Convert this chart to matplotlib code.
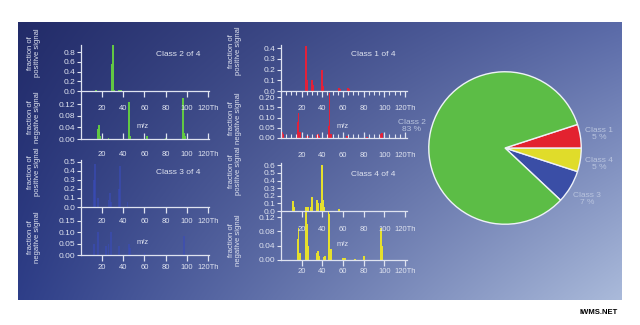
import matplotlib
matplotlib.use("Agg")
import matplotlib.pyplot as plt
import numpy as np

plt.rcParams['font.family'] = ['Liberation Sans', 'DejaVu Sans']

W, H = 640, 325

# ---- data (m/z in Th, fraction of signal) ----
c2_pos_mz = [14, 17, 29, 30, 31, 36, 38, 44, 56]
c2_pos = [0.02, 0.01, 0.55, 0.95, 0.02, 0.02, 0.02, 0.005, 0.005]
c2_neg_mz = [16, 17, 18, 26, 45, 46, 62, 80, 96, 97, 98]
c2_neg = [0.035, 0.048, 0.01, 0.003, 0.127, 0.01, 0.01, 0.005, 0.14, 0.02, 0.01]

c3_pos_mz = [12, 13, 16, 26, 27, 28, 36, 37, 44]
c3_pos = [0.3, 0.48, 0.1, 0.08, 0.15, 0.05, 0.2, 0.45, 0.05]
c3_neg_mz = [12, 16, 24, 26, 28, 36, 45, 46, 60, 97]
c3_neg = [0.05, 0.1, 0.04, 0.05, 0.1, 0.04, 0.05, 0.03, 0.01, 0.085]

c1_pos_mz = [24, 25, 30, 31, 40, 41, 56, 57, 65, 66]
c1_pos = [0.42, 0.1, 0.1, 0.06, 0.2, 0.05, 0.03, 0.02, 0.03, 0.015]
c1_neg_mz = [1, 2, 16, 17, 18, 25, 26, 35, 36, 37, 46, 47, 48, 64, 65, 83, 97, 98]
c1_neg = [0.03, 0.02, 0.08, 0.12, 0.03, 0.01, 0.01, 0.015, 0.02, 0.01,
          0.06, 0.22, 0.02, 0.01, 0.008, 0.005, 0.02, 0.025]

c4_pos_mz = [12, 13, 24, 25, 26, 29, 30, 35, 36, 39, 40, 41, 42, 56]
c4_pos = [0.13, 0.05, 0.05, 0.04, 0.05, 0.05, 0.18, 0.14, 0.1, 0.1, 0.6, 0.15, 0.05, 0.02]
c4_neg_mz = [16, 17, 18, 24, 25, 26, 35, 36, 37, 42, 43, 46, 47, 48, 60, 62, 72, 80, 97, 98]
c4_neg = [0.06, 0.09, 0.02, 0.14, 0.1, 0.04, 0.02, 0.025, 0.01, 0.008, 0.012,
          0.14, 0.13, 0.03, 0.005, 0.006, 0.004, 0.01, 0.09, 0.04]

classes = ["Class 1", "Class 2", "Class 3", "Class 4"]
shares = [5, 83, 7, 5]

xtick_vals = [20, 40, 60, 80, 100, 120]
xtick_labels = ["20", "40", "60", "80", "100", "120Th"]

fg = "#dfe3f0"
green = "#62c843"
red = "#e2213a"
yellow = "#e6e02c"
blue = "#3a4cba"


def px(x, y, w, h):
    return [x / W, 1 - (y + h) / H, w / W, h / H]


fig = plt.figure(figsize=(6.4, 3.25), dpi=100)
fig.patch.set_facecolor("white")

# gradient background panel
bg = fig.add_axes(px(18, 22, 604, 278))
tl = np.array([34, 43, 104]) / 255
tr = np.array([90, 106, 168]) / 255
bl = np.array([46, 62, 136]) / 255
br = np.array([170, 186, 218]) / 255
u = np.linspace(0, 1, 300)[None, :, None]
v = np.linspace(0, 1, 150)[:, None, None]
img = (1 - u) * (1 - v) * tl + u * (1 - v) * tr + (1 - u) * v * bl + u * v * br
bg.imshow(img, aspect="auto", extent=[0, 1, 0, 1], interpolation="bilinear")
bg.set_axis_off()


def style(ax, ylim, yticks, yfmt, xlim):
    ax.set_facecolor("none")
    ax.set_xlim(*xlim)
    ax.set_ylim(*ylim)
    ax.set_yticks(yticks)
    ax.set_yticklabels([yfmt % t for t in yticks])
    for s in ["top", "right"]:
        ax.spines[s].set_visible(False)
    for s in ["left", "bottom"]:
        ax.spines[s].set_color(fg)
        ax.spines[s].set_linewidth(0.9)
    ax.tick_params(axis="y", colors=fg, labelsize=6, length=3, width=0.8, pad=1)
    ax.set_xticks(xtick_vals)
    ax.set_xticklabels(xtick_labels)


def draw_class(rect_top, rect_bot, xlim, pos_mz, pos, neg_mz, neg, color,
               ylim_top, yt_top, fmt_top, ylim_bot, yt_bot, fmt_bot,
               top_pad, bot_dir, bot_pad, minor=False, alpha=1.0):
    ax1 = fig.add_axes(px(*rect_bot))
    ax2 = fig.add_axes(px(*rect_top))
    ax1.bar(neg_mz, neg, width=1.8, color=color, linewidth=0, alpha=alpha)
    ax2.bar(pos_mz, pos, width=1.8, color=color, linewidth=0, alpha=alpha)
    style(ax2, ylim_top, yt_top, fmt_top, xlim)
    style(ax1, ylim_bot, yt_bot, fmt_bot, xlim)
    ax2.tick_params(axis="x", colors=fg, labelsize=5.5, length=4.5, width=0.9,
                    direction="out", pad=top_pad)
    ax1.tick_params(axis="x", colors=fg, labelsize=5.5, length=4.5, width=0.9,
                    direction=bot_dir, pad=bot_pad)
    if minor:
        ax2.set_xticks(np.arange(0, 121, 5), minor=True)
        ax1.set_xticks(np.arange(0, 121, 5), minor=True)
        ax2.tick_params(axis="x", which="minor", colors=fg, length=3, width=0.8,
                        direction="out")
        ax1.tick_params(axis="x", which="minor", colors=fg, length=3, width=0.8,
                        direction=bot_dir)
    return ax2, ax1


# Class 2 (green)
draw_class((81, 45, 128, 46), (81, 91, 128, 48), (0, 121),
           c2_pos_mz, c2_pos, c2_neg_mz, c2_neg, green,
           (0, 0.95), [0, 0.2, 0.4, 0.6, 0.8], "%.1f",
           (0, 0.165), [0, 0.04, 0.08, 0.12], "%.2f",
           top_pad=5.5, bot_dir="in", bot_pad=9)
# Class 3 (blue)
draw_class((81, 160, 128, 47), (81, 207, 128, 48), (0, 121),
           c3_pos_mz, c3_pos, c3_neg_mz, c3_neg, blue,
           (0, 0.52), [0, 0.1, 0.2, 0.3, 0.4, 0.5], "%.1f",
           (0, 0.21), [0, 0.05, 0.10, 0.15], "%.2f",
           top_pad=3.5, bot_dir="out", bot_pad=2, alpha=0.6)
# Class 1 (red)
draw_class((281, 45, 126, 46), (281, 91, 126, 47), (0, 122),
           c1_pos_mz, c1_pos, c1_neg_mz, c1_neg, red,
           (0, 0.43), [0, 0.1, 0.2, 0.3, 0.4], "%.1f",
           (0, 0.23), [0, 0.05, 0.10, 0.15, 0.20], "%.2f",
           top_pad=5.5, bot_dir="in", bot_pad=10, minor=True)
# Class 4 (yellow)
draw_class((281, 163, 126, 48), (281, 211, 126, 49), (0, 122),
           c4_pos_mz, c4_pos, c4_neg_mz, c4_neg, yellow,
           (0, 0.63), [0, 0.1, 0.2, 0.3, 0.4, 0.5, 0.6], "%.1f",
           (0, 0.137), [0, 0.04, 0.08, 0.12], "%.2f",
           top_pad=6.5, bot_dir="out", bot_pad=1.5)


def ftext(x, y, s, **kw):
    fig.text(x / W, 1 - y / H, s, **kw)


# axis labels and panel titles
for (lx, ty, by) in [(34, 53, 117), (34, 172, 237), (235, 51, 118), (235, 171, 240)]:
    ftext(lx, ty, "fraction of\npositive signal", rotation=90, ha="center",
          va="center", color=fg, fontsize=5.5, linespacing=1.0)
    ftext(lx, by, "fraction of\nnegative signal", rotation=90, ha="center",
          va="center", color=fg, fontsize=5.5, linespacing=1.0)

ftext(178, 55, "Class 2 of 4", ha="center", va="center", color=fg, fontsize=6)
ftext(178, 172, "Class 3 of 4", ha="center", va="center", color=fg, fontsize=6)
ftext(373, 55, "Class 1 of 4", ha="center", va="center", color=fg, fontsize=6)
ftext(373, 175, "Class 4 of 4", ha="center", va="center", color=fg, fontsize=6)
for (mx, my) in [(143, 126), (143, 243), (343, 126), (343, 245)]:
    ftext(mx, my, "m/z", ha="center", va="center", color=fg, fontsize=5.5)

# pie
axp = fig.add_axes(px(428, 71, 154, 154))
order = [2, 3, 0, 1]
pie_colors = {0: "#e3222f", 1: "#5cbd46", 2: "#3a4ea6", 3: "#e0dc2a"}
axp.pie([shares[i] for i in order], colors=[pie_colors[i] for i in order],
        startangle=-43.2, counterclock=True, radius=1,
        wedgeprops=dict(edgecolor="#eef2f8", linewidth=1.0))
axp.set_xlim(-1.01, 1.01)
axp.set_ylim(-1.01, 1.01)
axp.set_axis_off()

lab_col = "#b9c4de"
for i, (lx, ly) in zip([0, 3, 2, 1], [(599, 134), (599, 164), (587, 199), (412, 126)]):
    ftext(lx, ly, "%s\n%d %%" % (classes[i], shares[i]), ha="center",
          va="center", color=lab_col, fontsize=6, linespacing=1.1)

ftext(599, 312, "IWMS.NET", ha="center", va="center", color="black",
      fontsize=5.5, fontweight="bold")

fig.savefig("out.png", dpi=100, facecolor="white")
